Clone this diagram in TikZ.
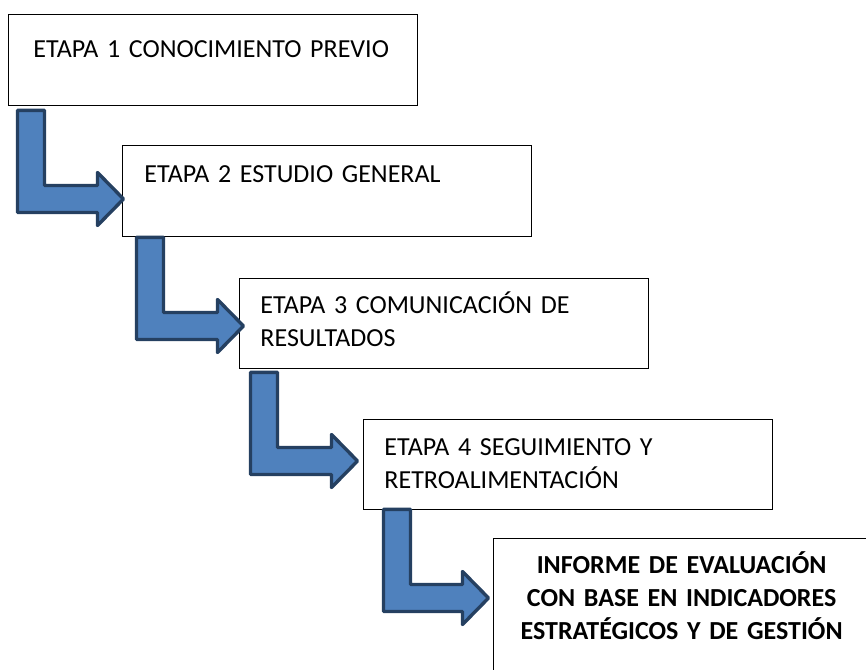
\documentclass[tikz,border=0pt]{standalone}
\usepackage{fontspec}
\setmainfont{Carlito}
\usepackage{xcolor}
\usepackage{tikz}
\usetikzlibrary{calc,positioning}
\definecolor{flechaazul}{HTML}{4F81BD}
\definecolor{flechaborde}{HTML}{254061}
\newcommand{\etapafont}{\fontsize{26}{33}\selectfont}

\begin{document}
\begin{tikzpicture}[x=1pt,y=-1pt,
  etapa/.style={draw, line width=0.9pt, anchor=north west, inner xsep=21pt, inner ysep=0pt,
    text width=367pt, align=left, font=\etapafont},
  informe/.style={etapa, line width=1.3pt, align=center, text width=340pt, inner xsep=18pt,
    font=\etapafont\bfseries},
  flecha/.style={fill=flechaazul, draw=flechaborde, line width=3.4pt, line join=round}]
\useasboundingbox (0,0) rectangle (866,669);
\clip (0,0) rectangle (866,669);
% stage boxes, stepping down to the right
\node[etapa, inner xsep=25pt, text width=359pt, text height=43pt, text depth=48pt] (e1) at (8,14)
  {ETAPA 1 CONOCIMIENTO PREVIO};
\node[etapa, inner xsep=22pt, text width=365pt, text height=37pt, text depth=54pt] (e2) at (122,145)
  {ETAPA 2 ESTUDIO GENERAL};
\node[etapa, text height=35pt, text depth=55pt] (e3) at (239,278)
  {ETAPA 3 COMUNICACIÓN DE\\RESULTADOS};
\node[etapa, text height=36pt, text depth=54pt] (e4) at (363,419)
  {ETAPA 4 SEGUIMIENTO Y\\RETROALIMENTACIÓN};
\node[informe, text height=35pt, text depth=150pt] (e5) at (493,538)
  {INFORME DE EVALUACIÓN\\CON BASE EN INDICADORES\\ESTRATÉGICOS Y DE GESTIÓN};
% bent block arrows from each box to the next
\foreach \a/\b/\dx/\dt/\tx/\ty in {e1/e2/8/3/1.5/54, e2/e3/13/-1/4.5/48,
                                   e3/e4/10/2/-5.5/42, e4/e5/19/-2/-4.5/60}{
  \coordinate (\a-arr) at ($(\a.south west)+(\dx+1.5,\dt+1.5)$);
  \coordinate (\b-tip) at ($(\b.north west)+(\tx,\ty)$);
  \draw[flecha] (\a-arr) -- ++(27,0) -- ($(\a-arr |- \b-tip)+(27,-13.5)$)
    -- ($(\b-tip)+(-26,-13.5)$) -- ($(\b-tip)+(-26,-26.5)$) -- (\b-tip)
    -- ($(\b-tip)+(-26,26.5)$) -- ($(\b-tip)+(-26,13.5)$)
    -- ($(\a-arr |- \b-tip)+(0,13.5)$) -- cycle;
}
\end{tikzpicture}
\end{document}
